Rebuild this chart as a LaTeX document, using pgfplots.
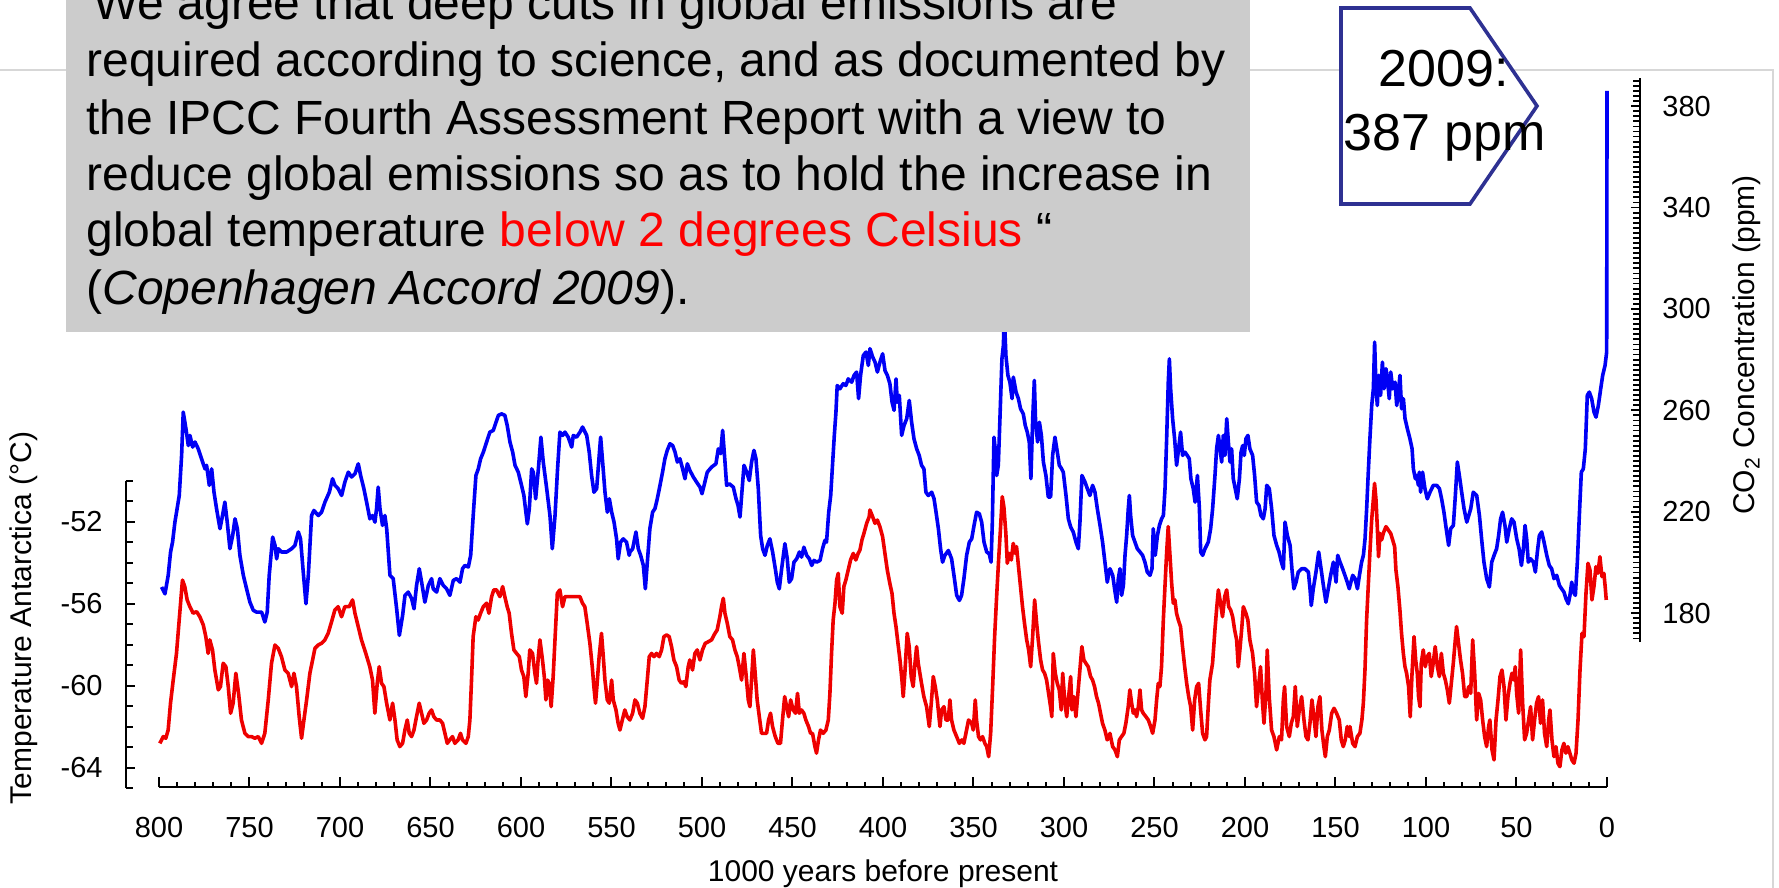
\documentclass[border=0pt]{standalone}
\usepackage{fontspec}
\setmainfont{Liberation Sans}
\usepackage{pgfplots}
\usepackage{pgfplotstable}
\pgfplotsset{compat=1.18}
\definecolor{boxgray}{RGB}{204,204,204}
\definecolor{navy}{RGB}{46,49,146}
\definecolor{framegray}{RGB}{215,215,215}
\definecolor{cblue}{RGB}{0,0,245}
\definecolor{cred}{RGB}{238,0,0}

\pgfplotstableread{
kyr ppm
798.6 190.3
796.7 187.6
794.9 194.9
793.6 204.1
792.5 208.0
791.2 215.9
790.3 219.8
788.8 226.4
787.5 242.2
786.6 259.3
785.1 252.7
783.8 246.1
782.9 250.1
781.4 245.5
780.1 247.5
778.3 244.8
776.5 240.9
774.6 236.9
773.7 238.3
772.2 230.4
770.9 236.9
769.6 227.7
768.2 221.2
766.3 213.3
764.9 218.5
763.6 223.8
762.3 215.9
760.8 205.4
759.3 210.6
758.0 217.2
756.7 213.3
755.3 202.8
753.4 194.9
751.6 189.6
749.8 184.4
747.9 181.1
746.1 180.4
743.3 180.4
741.5 176.5
740.2 180.4
739.1 194.9
737.2 210.0
735.9 206.7
735.0 201.4
734.1 205.4
732.3 204.1
729.5 204.1
726.7 205.4
724.9 206.7
723.0 212.0
721.8 209.3
720.3 196.2
718.8 183.7
717.5 194.9
715.7 218.5
714.4 220.5
712.0 218.5
710.2 219.8
708.3 223.8
705.9 227.7
704.1 233.0
702.8 230.4
701.0 229.1
699.1 226.4
697.3 231.7
695.4 235.6
693.6 233.7
691.7 235.0
689.9 238.9
688.6 234.3
686.8 229.1
685.3 223.8
683.5 217.2
682.0 218.5
680.7 215.9
679.8 221.2
678.9 229.7
677.9 221.2
676.5 214.6
675.2 218.5
674.2 213.3
672.4 194.9
670.6 193.6
668.7 181.7
667.2 171.2
665.4 179.1
664.1 187.0
662.3 188.3
660.4 185.7
659.1 181.7
657.7 190.9
656.2 197.5
654.9 192.2
653.1 184.3
651.2 190.9
649.4 193.6
648.5 189.6
646.6 188.3
644.8 193.6
642.9 190.9
641.1 189.6
639.3 187.0
637.4 192.9
635.6 193.6
633.7 192.2
632.3 197.5
631.0 198.8
629.1 198.2
627.8 202.8
626.4 218.5
624.9 234.3
623.6 236.9
622.3 240.9
620.8 243.5
619.0 247.5
617.2 251.4
615.3 252.1
613.8 255.3
612.5 258.0
610.7 258.6
608.9 258.0
607.6 254.0
606.1 247.5
604.6 243.5
603.3 238.3
601.5 235.6
599.7 230.4
598.4 226.4
597.3 219.8
596.5 215.2
595.4 221.2
594.1 236.9
593.2 235.6
591.9 225.1
590.4 236.9
589.0 249.4
587.7 239.6
585.8 229.1
584.0 218.5
582.7 205.4
581.2 218.5
579.8 236.9
578.5 251.4
577.0 250.1
575.7 251.4
573.9 249.4
572.0 245.5
571.1 250.1
569.3 249.4
567.4 251.4
566.0 253.4
563.7 250.1
562.3 243.5
561.0 234.3
559.7 227.7
558.2 229.1
556.8 242.2
556.0 249.4
554.9 239.6
553.6 227.7
552.3 219.8
551.2 225.1
549.9 219.8
548.6 215.9
547.2 209.3
546.3 201.4
545.0 208.0
543.5 209.3
541.7 208.0
540.2 202.8
539.8 204.1
538.3 205.4
536.5 212.0
535.2 205.4
533.9 202.8
532.4 198.8
531.3 189.6
530.2 200.1
528.8 213.3
527.3 219.8
526.0 221.2
524.7 225.1
523.2 230.4
521.8 235.6
520.5 240.9
519.2 244.2
517.7 246.8
516.2 246.1
514.9 243.5
513.6 239.6
512.2 240.9
510.7 236.9
509.4 233.0
508.1 238.9
506.7 236.3
504.8 233.7
503.0 231.7
501.1 229.7
500.0 227.1
498.4 231.7
497.1 235.6
494.7 237.6
492.3 238.9
491.0 244.8
489.7 242.9
488.6 252.1
487.3 239.6
486.4 230.4
484.9 231.0
482.7 229.7
481.2 225.1
480.1 222.5
479.0 217.9
478.1 226.4
476.8 238.3
475.3 235.6
473.9 232.3
472.6 239.6
471.3 244.2
470.2 240.9
468.9 229.1
467.6 210.6
466.5 205.4
465.2 202.8
463.9 206.7
462.5 209.3
461.0 204.1
459.5 197.5
458.4 192.2
457.3 189.6
456.0 197.5
454.2 207.4
452.9 201.4
451.8 192.2
450.5 193.6
449.2 200.1
447.7 201.4
446.2 204.1
445.0 202.1
443.7 206.0
442.2 202.8
440.7 201.4
439.4 198.8
438.1 200.8
436.7 200.1
434.8 200.8
433.4 205.4
432.1 208.7
431.2 208.0
430.0 219.8
428.9 226.4
427.8 239.6
426.9 250.1
426.0 259.3
425.3 269.8
423.8 268.5
422.0 270.5
420.5 269.8
419.2 272.4
417.3 271.1
416.0 273.8
414.6 275.1
413.5 264.6
412.4 273.8
410.9 281.6
409.4 283.0
408.1 277.7
407.2 284.3
405.7 281.0
404.4 279.0
403.1 275.1
401.7 279.0
400.2 282.3
398.9 275.7
397.6 273.8
396.2 270.5
395.0 263.2
393.9 260.0
392.8 272.4
392.1 263.2
391.0 265.9
389.7 250.1
388.4 254.0
386.9 256.7
385.5 263.9
384.2 255.3
382.9 248.8
381.4 244.8
380.0 242.2
378.7 238.3
377.4 236.9
376.3 227.7
375.0 226.4
373.1 227.7
371.8 225.1
370.7 219.8
369.4 213.3
368.2 205.4
367.1 200.1
365.8 202.8
363.9 204.7
362.1 201.4
360.8 194.9
359.3 187.0
357.8 185.0
356.6 187.0
355.3 193.6
353.8 202.8
352.3 208.0
351.0 209.3
349.7 214.6
348.3 219.8
346.8 219.2
345.5 215.9
344.2 208.0
342.7 204.1
341.3 203.4
340.3 200.1
339.6 215.9
338.7 249.4
338.0 244.8
337.2 234.3
336.3 238.3
335.4 256.7
334.3 280.3
333.5 285.6
333.0 297.4
332.1 281.6
331.0 273.8
329.9 271.1
328.7 264.6
328.0 273.1
326.5 267.2
325.2 264.6
324.0 260.6
322.5 258.6
321.4 254.0
320.3 251.4
319.2 247.5
318.3 233.0
317.3 256.7
316.4 271.8
315.7 255.3
314.6 247.5
313.6 255.3
312.5 250.1
311.4 239.6
310.0 234.3
308.7 225.8
307.4 225.8
306.3 242.2
305.0 249.4
303.7 243.5
302.6 238.3
301.3 236.9
300.4 235.6
298.9 226.4
297.6 217.2
296.3 213.9
294.9 212.0
293.4 208.0
292.1 205.4
291.2 215.9
290.1 234.3
288.4 231.7
287.1 229.1
285.7 226.4
284.2 230.4
282.9 227.7
281.6 221.2
280.1 214.6
278.7 208.0
277.4 200.1
276.1 192.2
275.0 196.8
274.6 197.5
273.1 194.9
271.8 188.3
270.9 184.3
270.0 193.6
269.1 197.5
268.2 187.0
267.2 190.9
266.3 202.8
265.4 210.6
264.5 221.2
263.9 226.4
263.2 218.5
262.1 210.6
260.8 208.0
259.5 205.4
258.0 204.1
256.6 202.8
255.3 200.1
254.0 196.2
252.5 194.9
251.4 197.5
250.7 213.3
249.6 202.8
248.4 210.6
247.3 214.6
246.1 217.2
245.1 218.5
244.2 229.1
243.3 248.8
242.4 271.1
241.8 280.3
241.1 268.5
240.0 256.7
238.9 248.8
237.8 238.3
236.7 244.8
235.6 251.4
234.5 242.2
233.2 243.5
231.9 242.2
230.8 240.9
229.9 233.0
228.6 229.1
227.6 223.8
226.3 234.3
225.2 221.2
224.5 204.1
223.4 202.8
222.1 205.4
220.3 208.0
219.0 213.3
217.9 221.2
216.6 234.3
215.7 244.8
214.7 250.1
213.8 244.8
212.9 239.6
212.0 250.1
211.1 242.2
210.1 256.7
209.2 247.5
208.3 239.6
207.4 244.8
206.5 233.0
205.4 229.1
204.3 225.1
203.1 233.0
202.2 243.5
201.3 246.1
200.4 242.2
199.5 248.8
198.4 250.1
197.3 244.8
195.8 242.2
194.7 234.3
193.6 223.8
192.3 222.5
191.2 218.5
189.9 217.2
188.9 221.2
188.0 230.4
186.6 229.1
185.3 221.2
184.0 210.6
182.5 206.7
181.2 204.1
179.9 200.1
178.8 197.5
177.9 215.9
176.6 210.6
175.1 206.7
174.1 197.5
173.0 189.6
171.8 192.2
170.6 196.2
168.7 197.5
166.9 197.5
165.0 196.2
164.1 189.6
163.4 183.0
162.3 189.6
160.8 196.2
159.3 204.1
158.0 197.5
156.7 190.9
155.3 184.3
154.0 189.6
152.7 194.9
151.2 200.1
149.7 192.2
148.8 202.8
147.5 200.1
146.1 197.5
144.8 194.9
143.5 192.2
142.4 189.6
142.0 190.9
140.5 194.9
139.2 193.6
137.9 189.6
136.8 194.9
135.6 200.1
134.6 202.8
133.7 209.3
132.8 221.2
131.9 235.6
131.0 248.8
130.0 261.9
129.1 268.5
128.4 286.9
127.6 268.5
126.9 261.9
126.2 273.8
125.1 265.9
124.1 279.0
123.2 268.5
122.1 276.4
121.2 271.1
120.3 264.6
119.5 275.1
118.4 268.5
117.1 271.1
116.2 261.9
115.1 268.5
114.4 273.8
113.5 260.6
112.5 264.6
111.6 256.7
110.3 252.7
108.9 248.8
107.7 244.8
107.0 236.9
105.9 233.0
105.2 234.3
104.2 230.4
103.7 235.6
103.0 227.7
101.9 235.6
100.6 229.1
99.3 225.1
97.8 227.7
96.0 230.4
94.1 230.4
92.6 229.1
91.4 225.1
90.1 219.8
88.6 212.0
87.5 206.7
86.4 213.3
84.9 214.6
83.8 226.4
82.7 239.6
81.6 234.3
80.3 227.7
79.0 221.2
77.5 215.9
76.4 218.5
75.3 221.2
73.9 227.7
72.0 226.4
70.5 218.5
69.3 209.3
68.0 200.1
66.5 193.6
65.0 190.3
63.7 200.1
62.4 202.8
61.0 205.4
59.9 210.6
58.8 217.2
57.7 219.8
56.4 214.6
55.4 208.0
54.0 213.3
52.7 217.2
51.4 215.9
49.9 209.3
48.6 205.4
47.3 198.8
46.2 205.4
45.3 214.6
44.4 209.3
43.5 200.1
42.2 201.4
40.7 200.1
39.6 196.2
38.5 204.1
37.4 210.6
36.1 212.0
34.8 208.0
33.3 202.8
31.9 198.8
30.6 197.5
29.3 193.6
27.8 194.9
26.3 190.9
25.1 189.6
23.8 188.3
22.7 185.7
21.4 183.7
20.5 187.0
19.5 192.2
18.6 188.3
17.5 187.0
16.4 200.1
15.3 218.5
14.2 235.6
13.1 236.9
12.0 244.8
10.9 265.9
9.8 267.2
8.5 264.6
7.2 259.3
6.1 257.3
4.8 261.9
3.5 268.5
2.4 273.8
1.1 277.7
0.2 283.0
0.0 386.0
}\cotwo

\pgfplotstableread{
kyr T
799.5 -62.82
797.6 -62.49
796.2 -62.57
794.9 -62.17
793.6 -60.86
792.1 -59.73
790.3 -58.43
788.8 -56.80
787.0 -54.85
785.7 -55.17
784.4 -55.82
782.9 -56.15
781.1 -56.47
779.2 -56.39
777.4 -56.64
775.5 -57.04
774.1 -57.61
772.8 -58.43
771.9 -57.77
770.4 -58.26
769.1 -59.24
767.2 -60.21
766.0 -60.05
764.5 -58.91
763.0 -59.08
761.7 -60.05
760.4 -61.35
759.0 -60.86
757.5 -59.40
756.0 -60.38
754.4 -61.68
752.5 -62.33
750.7 -62.49
748.8 -62.49
747.0 -62.57
745.1 -62.49
743.3 -62.82
741.5 -62.33
739.6 -60.70
737.8 -58.91
735.9 -58.02
734.1 -58.18
732.3 -58.59
730.4 -59.24
728.6 -59.40
726.7 -60.05
725.4 -59.40
724.0 -60.05
722.5 -61.52
721.2 -62.57
719.9 -61.68
718.4 -60.70
716.6 -59.40
715.1 -58.75
713.8 -58.18
712.0 -58.02
710.2 -57.94
708.3 -57.77
706.5 -57.45
704.6 -56.88
702.8 -56.31
701.0 -56.15
699.1 -56.64
697.3 -56.15
694.9 -56.15
693.0 -55.82
691.7 -56.47
689.9 -57.12
688.1 -57.77
685.7 -58.43
683.5 -59.08
682.0 -59.73
680.7 -61.35
679.4 -59.89
678.3 -59.08
677.0 -59.89
675.7 -60.05
674.2 -60.86
672.4 -61.68
670.9 -60.86
669.6 -61.68
668.4 -62.65
666.9 -62.98
665.4 -62.82
664.1 -62.17
662.8 -61.68
661.7 -62.33
660.4 -62.49
659.1 -62.17
657.7 -61.52
656.2 -60.86
654.9 -61.35
653.6 -61.84
652.1 -61.68
650.7 -61.35
649.4 -61.19
648.1 -61.52
646.6 -61.68
644.8 -61.68
643.3 -61.84
642.0 -62.33
640.7 -62.82
639.3 -62.65
637.8 -62.49
636.5 -62.82
634.7 -62.65
633.4 -62.33
632.3 -62.65
630.4 -62.82
629.1 -62.49
628.2 -61.68
627.3 -59.73
626.4 -57.61
624.9 -56.64
623.6 -56.80
622.3 -56.47
620.8 -56.15
619.0 -55.98
617.7 -56.47
616.2 -55.66
615.0 -55.33
613.5 -55.33
611.6 -55.66
610.1 -55.17
608.9 -55.66
607.6 -56.15
606.5 -56.47
605.2 -57.45
603.9 -58.26
602.4 -58.43
600.9 -58.59
599.7 -59.24
598.4 -59.56
597.3 -60.54
596.0 -59.40
595.1 -58.26
593.6 -58.43
592.3 -59.40
591.4 -59.89
590.4 -58.59
589.5 -57.77
588.1 -58.75
587.1 -59.56
586.2 -60.70
585.3 -59.73
584.4 -59.89
583.3 -61.03
582.2 -59.56
581.1 -57.61
579.9 -55.50
578.5 -55.33
577.0 -56.15
575.7 -55.66
573.9 -55.66
571.5 -55.66
569.3 -55.66
567.4 -55.66
566.0 -55.98
564.7 -56.15
563.4 -56.96
561.9 -57.94
560.6 -59.08
559.7 -60.05
558.8 -60.86
557.9 -59.89
556.8 -58.59
555.5 -57.45
554.5 -58.59
553.6 -59.73
552.3 -60.70
551.2 -60.86
549.9 -59.73
549.0 -60.70
547.5 -61.19
546.3 -61.84
545.3 -62.17
544.0 -61.68
542.6 -61.19
541.3 -61.52
539.8 -61.68
538.3 -61.35
537.0 -60.70
535.7 -60.86
534.3 -61.35
532.8 -61.60
531.5 -61.03
530.2 -59.73
529.1 -58.59
527.8 -58.43
526.5 -58.59
525.1 -58.43
523.6 -58.59
522.3 -58.26
521.0 -57.61
519.5 -57.53
518.1 -57.61
516.8 -58.10
515.5 -58.75
514.0 -59.08
512.6 -59.73
511.3 -59.89
510.0 -59.81
508.9 -60.05
507.6 -59.08
506.7 -58.75
505.2 -59.24
503.9 -58.43
502.6 -58.26
501.1 -58.75
499.7 -58.26
498.2 -57.94
496.5 -57.86
494.7 -57.77
492.8 -57.45
491.6 -57.29
490.1 -56.64
489.2 -56.15
488.2 -55.74
487.3 -56.47
486.0 -56.96
484.6 -57.61
483.1 -57.77
481.8 -58.26
480.5 -58.59
479.4 -59.08
478.1 -59.73
476.8 -58.43
475.7 -59.40
474.4 -60.70
473.5 -61.03
472.6 -59.73
471.6 -58.26
470.6 -59.40
469.5 -60.70
468.3 -61.52
467.1 -62.33
465.8 -62.33
464.3 -62.33
463.2 -61.68
462.1 -61.35
461.0 -62.00
459.5 -62.49
458.0 -62.82
456.6 -62.82
455.5 -61.68
454.3 -60.54
453.2 -61.03
452.1 -61.52
451.0 -60.70
449.6 -61.19
448.3 -61.35
447.2 -60.38
446.2 -61.35
445.0 -61.19
443.7 -61.35
442.6 -61.68
441.1 -62.00
440.0 -62.33
438.9 -62.33
437.6 -62.98
436.7 -63.30
435.6 -62.65
434.5 -62.17
433.0 -62.33
431.5 -62.17
430.2 -61.68
429.3 -60.38
428.4 -58.43
427.5 -56.80
426.5 -55.98
425.6 -54.85
424.7 -54.52
423.8 -56.15
422.5 -56.47
421.6 -55.17
420.5 -54.85
419.2 -54.36
417.9 -53.87
416.4 -53.55
415.0 -53.87
413.7 -53.55
412.7 -53.38
411.6 -52.89
410.5 -52.57
409.0 -52.08
407.6 -51.76
407.2 -51.43
405.7 -51.76
404.4 -52.08
403.1 -51.92
401.7 -52.24
400.2 -52.73
398.9 -53.55
397.6 -54.36
396.2 -55.01
395.0 -55.50
393.9 -56.47
392.8 -57.12
391.7 -57.94
390.6 -58.75
389.5 -59.73
388.8 -60.54
387.9 -59.40
386.6 -57.45
385.5 -58.10
384.4 -59.56
383.3 -60.05
382.3 -58.91
381.4 -58.10
380.5 -58.91
379.6 -59.40
378.7 -59.89
377.4 -60.54
375.9 -61.03
374.4 -62.00
373.3 -60.86
372.2 -59.56
371.1 -60.05
370.0 -60.70
368.5 -62.00
367.6 -61.19
366.3 -61.03
365.2 -61.68
363.9 -61.68
363.0 -60.70
362.1 -61.68
360.8 -62.17
359.3 -62.49
357.8 -62.82
356.4 -62.65
355.3 -62.82
353.8 -62.17
352.7 -61.68
351.0 -61.84
350.1 -62.17
349.0 -60.70
348.3 -61.68
347.2 -62.49
346.1 -62.65
345.0 -62.49
343.7 -62.82
342.7 -62.98
341.6 -63.47
340.5 -62.33
339.4 -60.05
338.3 -57.61
337.2 -55.66
336.1 -53.87
335.0 -52.24
334.1 -50.78
333.2 -51.27
332.1 -52.57
331.3 -54.03
330.2 -53.55
329.1 -53.87
328.0 -53.06
326.9 -53.55
326.2 -53.22
325.1 -54.20
324.0 -55.17
322.9 -56.15
321.8 -56.96
320.6 -57.77
319.5 -58.26
318.4 -59.08
317.3 -57.61
316.2 -55.82
315.1 -56.96
314.2 -57.77
312.9 -58.75
311.8 -59.24
310.7 -59.40
309.6 -59.73
308.5 -60.38
307.4 -61.03
306.7 -61.52
305.9 -58.43
304.8 -59.40
303.7 -59.89
302.6 -60.21
301.5 -61.19
300.7 -59.40
299.6 -60.70
298.5 -61.52
297.4 -60.54
296.3 -59.56
295.6 -61.19
294.5 -60.54
293.4 -61.52
292.3 -60.38
291.2 -59.24
290.1 -58.10
289.0 -58.75
287.9 -58.91
286.6 -59.08
285.3 -59.56
284.2 -59.73
283.1 -60.05
282.0 -60.54
280.9 -60.86
279.8 -61.35
278.7 -61.84
277.4 -62.17
276.1 -62.65
275.0 -62.49
274.6 -62.33
273.1 -62.98
271.8 -63.14
270.5 -63.47
269.4 -62.65
268.2 -62.49
266.9 -62.33
265.8 -61.84
264.5 -61.03
263.6 -60.21
262.6 -60.86
261.7 -61.35
260.8 -61.19
259.9 -61.52
258.9 -61.03
258.0 -60.21
257.1 -61.19
256.2 -61.35
254.7 -61.52
253.4 -61.68
252.1 -62.00
251.0 -62.33
249.7 -61.68
248.8 -60.70
247.9 -59.89
247.0 -60.05
246.1 -59.08
245.1 -56.80
244.2 -55.17
243.3 -53.55
242.4 -52.24
241.5 -53.55
240.5 -55.01
239.6 -55.98
238.7 -55.82
237.8 -56.47
236.8 -56.80
235.6 -57.12
234.5 -58.10
233.3 -59.08
232.2 -59.89
231.1 -60.54
230.0 -61.03
228.9 -62.17
227.8 -60.70
226.7 -60.05
225.6 -59.89
224.5 -61.19
223.4 -62.33
222.1 -62.65
221.2 -62.49
220.3 -61.03
219.4 -59.73
217.9 -58.91
216.6 -57.29
215.7 -56.31
214.7 -55.33
213.5 -55.98
212.4 -56.64
211.2 -55.66
210.1 -55.33
209.0 -56.15
207.9 -56.31
206.8 -56.64
205.7 -57.29
204.6 -57.77
203.7 -59.08
202.8 -58.26
201.7 -57.12
200.9 -56.15
199.5 -56.47
198.4 -56.80
197.3 -57.77
195.8 -58.43
194.7 -59.40
193.6 -61.03
192.5 -60.05
191.4 -59.08
190.3 -60.86
189.5 -61.84
188.4 -60.38
187.7 -58.26
186.6 -60.54
185.3 -62.17
184.0 -62.49
182.5 -63.14
181.0 -62.49
179.8 -62.65
178.8 -60.70
178.1 -60.05
177.0 -62.00
175.5 -62.49
174.4 -61.84
173.3 -61.52
172.2 -60.05
171.1 -62.00
170.0 -61.19
168.7 -60.54
167.4 -61.68
166.3 -62.49
165.2 -62.65
164.1 -61.84
163.0 -60.70
161.9 -61.52
160.8 -62.49
159.7 -61.03
158.6 -60.54
157.5 -62.17
156.4 -62.98
155.6 -63.47
154.5 -62.49
153.4 -62.17
152.1 -61.35
150.8 -61.11
149.4 -61.35
147.9 -61.68
146.8 -62.65
145.7 -62.98
144.6 -62.65
143.5 -62.00
142.4 -62.49
142.0 -62.00
140.5 -62.82
139.2 -62.98
137.9 -62.49
136.5 -62.33
135.4 -61.68
134.6 -60.86
133.7 -59.24
132.8 -56.80
131.9 -55.17
131.0 -53.55
130.0 -51.92
129.1 -50.94
128.4 -50.13
127.6 -50.94
126.9 -52.24
126.2 -53.71
125.4 -52.57
124.5 -52.89
123.6 -52.57
122.1 -52.24
120.8 -52.41
119.5 -52.57
118.4 -52.89
117.3 -53.22
116.6 -54.36
115.5 -55.17
114.4 -56.31
113.5 -57.45
112.5 -58.43
111.6 -59.08
110.7 -59.40
109.6 -60.05
108.7 -61.52
107.7 -59.40
106.6 -57.61
105.7 -58.75
104.8 -59.40
104.1 -60.54
103.3 -61.03
102.6 -58.91
101.5 -58.26
100.4 -59.08
99.3 -58.59
98.2 -58.43
97.1 -59.56
96.0 -58.91
94.9 -58.10
93.7 -59.08
92.6 -59.56
91.5 -58.43
90.4 -59.40
89.3 -59.73
88.2 -60.21
87.1 -60.86
86.0 -59.89
84.9 -58.91
83.8 -57.77
83.1 -57.12
82.0 -57.94
80.9 -58.75
79.8 -59.40
78.6 -60.54
77.5 -60.54
76.4 -60.05
75.3 -60.38
74.2 -57.77
73.1 -59.40
72.0 -61.68
70.9 -60.38
69.8 -60.70
68.7 -61.68
67.6 -62.49
66.5 -62.98
65.4 -62.00
64.7 -61.68
63.5 -63.14
62.4 -63.63
61.3 -61.68
60.2 -60.70
59.1 -59.56
58.0 -59.24
56.9 -60.05
55.8 -61.68
54.7 -60.54
53.6 -59.89
52.5 -59.40
51.4 -59.73
50.7 -59.08
49.9 -60.38
48.8 -61.35
47.7 -58.26
46.6 -60.86
45.5 -62.65
44.4 -62.33
43.3 -61.68
42.2 -61.03
41.1 -62.65
40.0 -61.68
38.9 -60.86
37.8 -60.54
36.7 -61.84
35.6 -60.70
34.5 -62.33
33.3 -62.98
32.2 -61.68
31.5 -61.19
30.4 -62.65
29.3 -63.47
28.2 -62.98
27.1 -63.79
26.0 -63.96
24.9 -63.14
23.8 -62.82
22.7 -63.30
21.6 -62.98
20.5 -63.30
19.4 -63.63
18.2 -63.79
17.1 -63.30
16.0 -61.68
14.9 -59.24
13.8 -57.45
12.7 -57.61
11.6 -55.50
10.5 -54.03
9.4 -54.36
8.3 -55.82
7.2 -55.17
6.1 -54.20
5.0 -54.52
3.9 -53.71
2.8 -54.68
1.7 -54.52
1.0 -55.17
0.4 -55.82
}\temp

\begin{document}
\begin{tikzpicture}
% frame of the embedded picture
\draw[framegray, line width=0.75pt] (0pt,-35pt) -- (886.5pt,-35pt) -- (886.5pt,-460pt);

% temperature axis (left)
\begin{axis}[at={(63pt,-394pt)}, anchor=south west, scale only axis,
  width=740.5pt, height=153.65pt,
  xmin=0, xmax=818.2, x dir=reverse, ymin=-65, ymax=-50,
  axis x line=none, axis y line*=left,
  ytick={-64,-60,-56,-52}, yticklabels={-64,-60,-56,-52},
  minor ytick={-65,-64,...,-50},
  tick align=inside, major tick length=4.5pt, minor tick length=3.5pt,
  every tick/.style={black, line width=1pt},
  axis line style={black, line width=1pt},
  yticklabel style={anchor=east, inner sep=0pt, xshift=-11.5pt, font=\fontsize{14.5}{17}\selectfont},
  clip=false]
\addplot[cred, line width=1.8pt, line join=round, no markers] table[x=kyr, y=T] {\temp};
\end{axis}

% time axis (bottom)
\begin{axis}[at={(79.5pt,-393.5pt)}, anchor=south west, scale only axis,
  width=724pt, height=20pt,
  xmin=0, xmax=800, x dir=reverse, ymin=0, ymax=1,
  axis y line=none, axis x line*=bottom,
  xtick={0,50,...,800},
  xticklabels={0,50,100,150,200,250,300,350,400,450,500,550,600,650,700,750,800},
  minor x tick num=4,
  tick align=inside, major tick length=5pt, minor tick length=2.5pt,
  every tick/.style={black, line width=1pt},
  axis line style={black, line width=1pt},
  xticklabel style={anchor=center, yshift=-20.5pt, font=\fontsize{14.5}{17}\selectfont}]
\end{axis}

% CO2 axis (right)
\begin{axis}[at={(79.5pt,-321pt)}, anchor=south west, scale only axis,
  width=740.5pt, height=282pt,
  xmin=-18.2, xmax=800, x dir=reverse, ymin=168.6, ymax=391.1,
  axis x line=none, axis y line*=right,
  ytick={180,220,260,300,340,380}, yticklabels={180,220,260,300,340,380},
  minor ytick={170,172,...,390},
  tick align=inside, major tick length=4.5pt, minor tick length=3.5pt,
  every tick/.style={black, line width=0.9pt},
  axis line style={black, line width=1pt},
  yticklabel style={anchor=west, inner sep=0pt, xshift=11pt, font=\fontsize{14.5}{17}\selectfont},
  clip=false]
\addplot[cblue, line width=1.8pt, line join=round, no markers] table[x=kyr, y=ppm] {\cotwo};
\end{axis}

% axis titles
\node[rotate=90, font=\fontsize{15}{18}\selectfont] at (12pt,-309pt) {Temperature Antarctica (°C)};
\node[rotate=90, font=\fontsize{15}{18}\selectfont] at (873.5pt,-172.5pt) {CO\textsubscript{2} Concentration (ppm)};
\node[font=\fontsize{15}{18}\selectfont] at (441.5pt,-437pt) {1000 years before present};

% quotation box
\fill[boxgray] (33pt,20pt) rectangle (625pt,-166pt);
\begin{scope}[every node/.style={anchor=base west, inner sep=0pt, font=\fontsize{24}{28}\selectfont}]
\node at (38.5pt,-10pt) {“We agree that deep cuts in global emissions are};
\node at (43pt,-38.5pt) {required according to science, and as documented by};
\node at (43pt,-67pt) {the IPCC Fourth Assessment Report with a view to};
\node at (43pt,-95.5pt) {reduce global emissions so as to hold the increase in};
\node at (43pt,-123.5pt) {global temperature \textcolor{red}{below 2 degrees Celsius} “};
\node at (43pt,-152pt) {(\textit{Copenhagen Accord 2009}).};
\end{scope}

% callout
\draw[navy, line width=1.8pt, fill=white, line join=miter]
  (670.5pt,-4pt) -- (735pt,-4pt) -- (768.5pt,-53pt) -- (735pt,-102pt) -- (670.5pt,-102pt) -- cycle;
\node[anchor=base west, inner sep=0pt, font=\fontsize{26}{30}\selectfont] at (689pt,-43.5pt) {2009:};
\node[anchor=base west, inner sep=0pt, font=\fontsize{26}{30}\selectfont] at (671.5pt,-75.5pt) {387 ppm};

\pgfresetboundingbox
\path[use as bounding box] (0pt,0pt) rectangle (889.5pt,-444pt);
\end{tikzpicture}
\end{document}
